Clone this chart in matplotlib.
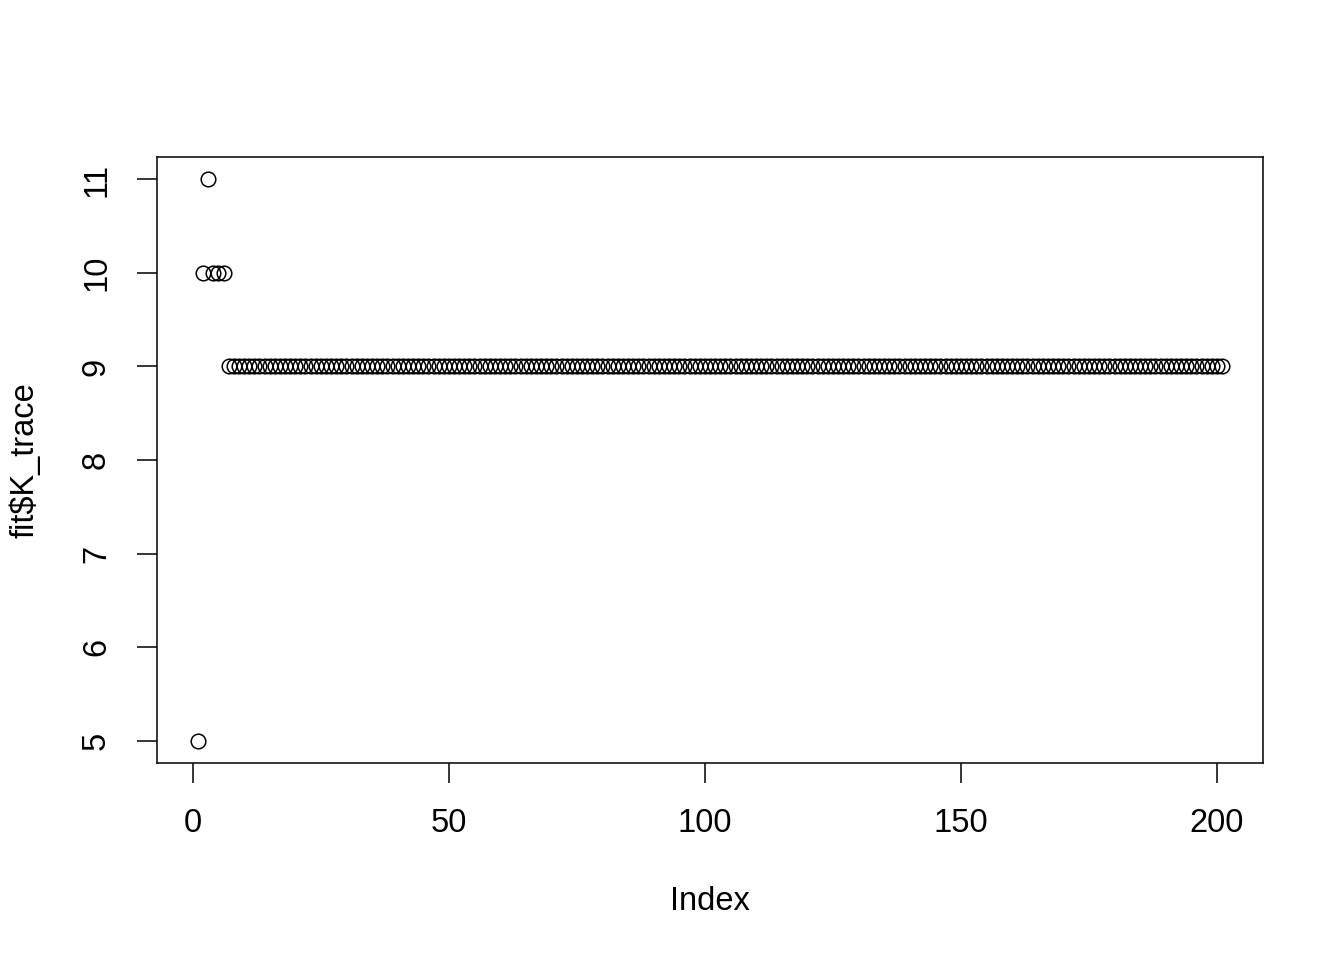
import numpy as np
import matplotlib.pyplot as plt

plt.rcParams['font.family'] = ['Liberation Sans', 'DejaVu Sans']

# K trace values (index 1..201)
first_values = [5, 10, 11, 10, 10, 10]
n_total = 201
settled_value = 9
k_trace = np.array(first_values + [settled_value] * (n_total - len(first_values)))
index = np.arange(1, n_total + 1)

x_ticks = [0, 50, 100, 150, 200]
y_ticks = [5, 6, 7, 8, 9, 10, 11]

fig = plt.figure(figsize=(13.44, 9.6), dpi=100)
ax = fig.add_axes([157 / 1344, 1 - 763 / 960, (1263 - 157) / 1344, (763 - 157) / 960])

ax.plot(index, k_trace, linestyle='none', marker='o', markersize=10.5,
        markerfacecolor='none', markeredgecolor='black', markeredgewidth=1.1)

# R default: extend range by 4% on each side
xr = index.max() - index.min()
yr = k_trace.max() - k_trace.min()
ax.set_xlim(index.min() - 0.04 * xr, index.max() + 0.04 * xr)
ax.set_ylim(k_trace.min() - 0.04 * yr, k_trace.max() + 0.04 * yr)

ax.set_xticks(x_ticks)
ax.set_yticks(y_ticks)
ax.tick_params(axis='both', length=14.4, width=1.1, labelsize=23.5, direction='out')
ax.tick_params(axis='x', pad=18)
ax.tick_params(axis='y', pad=18)
for lbl in ax.get_yticklabels():
    lbl.set_rotation(90)
    lbl.set_va('center')

for s in ax.spines.values():
    s.set_linewidth(1.1)

fig.text(710 / 1344, 1 - 902 / 960, 'Index', ha='center', va='center', fontsize=23.5)
fig.text(25 / 1344, 1 - 460 / 960, 'fit$K_trace', ha='center', va='center',
         fontsize=23.5, rotation=90, parse_math=False)

fig.savefig('out.png', dpi=100)
